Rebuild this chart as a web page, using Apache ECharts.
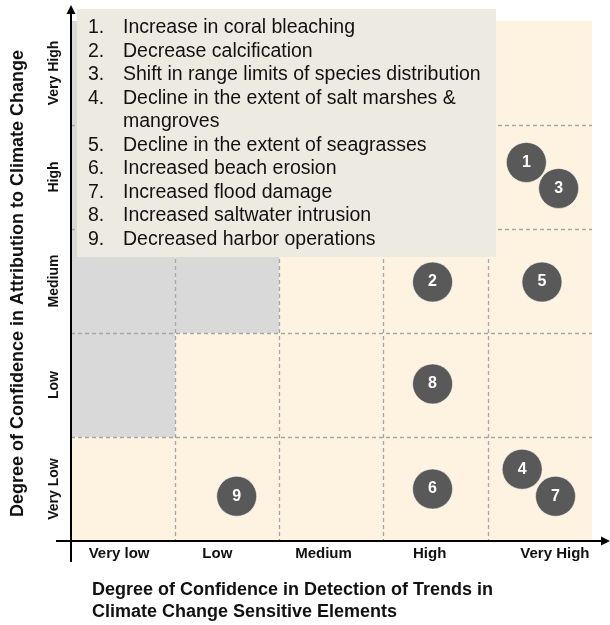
<!DOCTYPE html>
<html>
<head>
<meta charset="utf-8">
<script src="https://cdn.jsdelivr.net/npm/echarts@6/dist/echarts.min.js"></script>
<style>
html,body{margin:0;padding:0;background:#fff;}
#chart{width:610px;height:625px;}
</style>
</head>
<body>
<div id="chart"></div>
<script>
// ---- data ----
const xCategories = ['Very low', 'Low', 'Medium', 'High', 'Very High'];
const yCategories = ['Very Low', 'Low', 'Medium', 'High', 'Very High'];
const impactLabels = ['1', '2', '3', '4', '5', '6', '7', '8', '9'];
const impactDetection = [4.37, 3.47, 4.68, 4.33, 4.52, 3.47, 4.65, 3.47, 1.59];
const impactAttribution = [3.64, 2.49, 3.39, 0.69, 2.49, 0.50, 0.43, 1.51, 0.43];
const legendItems = [
  'Increase in coral bleaching',
  'Decrease calcification',
  'Shift in range limits of species distribution',
  'Decline in the extent of salt marshes &\nmangroves',
  'Decline in the extent of seagrasses',
  'Increased beach erosion',
  'Increased flood damage',
  'Increased saltwater intrusion',
  'Decreased harbor operations'
];
const greyCells = [[0,1],[0,2],[0,3],[0,4],[1,2],[1,3],[1,4]];
const xTitle = 'Degree of Confidence in Detection of Trends in\nClimate Change Sensitive Elements';
const yTitle = 'Degree of Confidence in Attribution to Climate Change';

// ---- styles ----
const FONT = '"Liberation Sans", Arial, sans-serif';
const CREAM = '#fef3e0';
const GREY = '#d9d9d9';
const BUBBLE = '#595959';
const xLabelShift = [-4, -10, -8, -6, 15];

const cells = [];
for (let i = 0; i < 5; i++) {
  for (let j = 0; j < 5; j++) {
    const g = greyCells.some(c => c[0] === i && c[1] === j) ? 1 : 0;
    cells.push([i, j, g]);
  }
}

const rich = {};
xLabelShift.forEach((d, i) => {
  rich['s' + i] = {
    fontSize: 15, fontWeight: 'bold', fontFamily: FONT, color: '#111',
    padding: d >= 0 ? [0, 0, 0, 2 * d] : [0, -2 * d, 0, 0]
  };
});

const chart = echarts.init(document.getElementById('chart'), null, {renderer: 'canvas'});

const option = {
  animation: false,
  backgroundColor: '#fff',
  grid: {left: 71, top: 21, width: 521, height: 520, containLabel: false},
  xAxis: [
    {
      type: 'value', min: 0, max: 5, interval: 1, z: 3,
      axisLine: {show: false}, axisTick: {show: false}, axisLabel: {show: false},
      splitLine: {show: true, showMinLine: false, showMaxLine: false,
        lineStyle: {type: [4, 3], color: '#a6a6a6', width: 1.3}}
    },
    {
      type: 'category', data: xCategories, position: 'bottom', boundaryGap: true,
      axisLine: {show: false}, axisTick: {show: false}, splitLine: {show: false},
      axisLabel: {
        margin: 5,
        formatter: (v, idx) => '{s' + idx + '|' + v + '}',
        rich: rich
      }
    }
  ],
  yAxis: [
    {
      type: 'value', min: 0, max: 5, interval: 1, z: 3,
      axisLine: {show: false}, axisTick: {show: false}, axisLabel: {show: false},
      splitLine: {show: true, showMinLine: false, showMaxLine: false,
        lineStyle: {type: [4, 3], color: '#a6a6a6', width: 1.3}}
    },
    {
      type: 'category', data: yCategories, position: 'left', boundaryGap: true,
      axisLine: {show: false}, axisTick: {show: false}, splitLine: {show: false},
      axisLabel: {
        rotate: 90, margin: 10,
        fontSize: 14, fontWeight: 'bold', fontFamily: FONT, color: '#111'
      }
    }
  ],
  series: [
    {
      type: 'custom', xAxisIndex: 0, yAxisIndex: 0, z: 1, silent: true,
      data: cells,
      encode: {x: 0, y: 1},
      renderItem: function (params, api) {
        const x = api.value(0), y = api.value(1);
        const p0 = api.coord([x, y]);
        const p1 = api.coord([x + 1, y + 1]);
        return {
          type: 'rect',
          shape: {x: p0[0], y: p1[1], width: p1[0] - p0[0], height: p0[1] - p1[1]},
          style: {fill: api.value(2) ? GREY : CREAM}
        };
      }
    },
    {
      type: 'scatter', xAxisIndex: 0, yAxisIndex: 0, z: 5,
      symbol: 'circle', symbolSize: 40,
      itemStyle: {color: BUBBLE, borderColor: 'rgba(255,255,255,0.55)', borderWidth: 1, opacity: 1},
      label: {
        show: true, position: 'inside', color: '#fff', fontSize: 16, fontWeight: 'bold',
        fontFamily: FONT,
        formatter: p => p.data[2]
      },
      data: impactLabels.map((l, i) => [impactDetection[i], impactAttribution[i], l])
    }
  ]
};
chart.setOption(option);

// ---- decorations: axis arrows, legend box, titles ----
const o = chart.convertToPixel({gridIndex: 0}, [0, 0]);
const e = chart.convertToPixel({gridIndex: 0}, [5, 5]);
const xTip = e[0] + 18, yTip = e[1] - 16;
const graphics = [];
graphics.push({type: 'line', z: 20, shape: {x1: o[0] - 15, y1: o[1], x2: xTip - 6, y2: o[1]},
  style: {stroke: '#000', lineWidth: 2}});
graphics.push({type: 'polygon', z: 20, shape: {points: [[xTip, o[1]], [xTip - 9, o[1] - 4.5], [xTip - 9, o[1] + 4.5]]},
  style: {fill: '#000'}});
graphics.push({type: 'line', z: 20, shape: {x1: o[0], y1: o[1] + 21, x2: o[0], y2: yTip + 6},
  style: {stroke: '#000', lineWidth: 2}});
graphics.push({type: 'polygon', z: 20, shape: {points: [[o[0], yTip], [o[0] - 4.5, yTip + 9], [o[0] + 4.5, yTip + 9]]},
  style: {fill: '#000'}});

// legend box
graphics.push({type: 'rect', z: 30, shape: {x: 77, y: 9, width: 419, height: 248},
  style: {fill: '#edebe1'}});
let line = 0;
legendItems.forEach((txt, i) => {
  const parts = txt.split('\n');
  graphics.push({type: 'text', z: 31, x: 88, y: 28 + 23.5 * line,
    style: {text: (i + 1) + '.', fontSize: 19.5, fontFamily: FONT, fill: '#111', verticalAlign: 'middle'}});
  parts.forEach(p => {
    graphics.push({type: 'text', z: 31, x: 123, y: 28 + 23.5 * line,
      style: {text: p, fontSize: 19.5, fontFamily: FONT, fill: '#111', verticalAlign: 'middle'}});
    line++;
  });
});

// axis titles
graphics.push({type: 'text', z: 31, x: 92, y: 601,
  style: {text: xTitle, fontSize: 18, fontWeight: 'bold', fontFamily: FONT, fill: '#111',
    lineHeight: 22, verticalAlign: 'middle', align: 'left'}});
graphics.push({type: 'text', z: 31, x: 18.5, y: 283.5, rotation: Math.PI / 2,
  style: {text: yTitle, fontSize: 18, fontWeight: 'bold', fontFamily: FONT, fill: '#111',
    verticalAlign: 'middle', align: 'center'}});

chart.setOption({graphic: graphics});
</script>
</body>
</html>
